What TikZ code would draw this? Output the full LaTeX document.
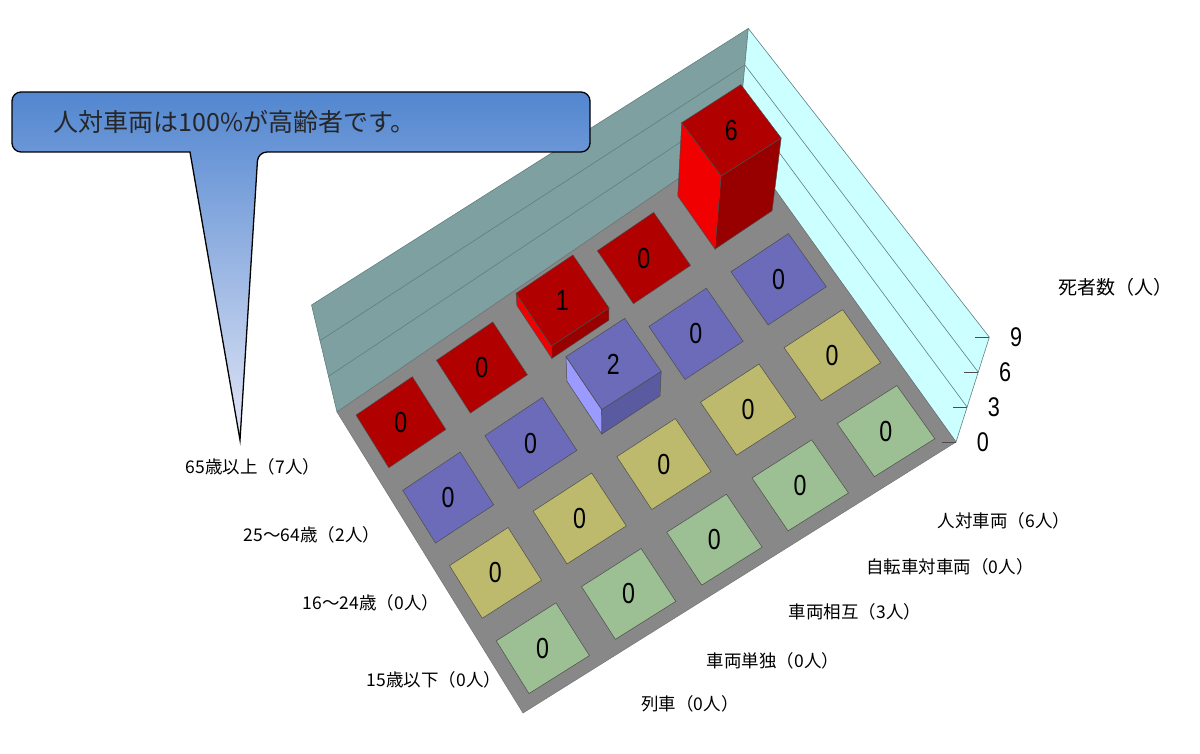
\documentclass[tikz,border=0pt]{standalone}
\usepackage{fontspec}
\setmainfont{Liberation Sans}
\newfontfamily\cjk{Noto Sans CJK JP}
\usetikzlibrary{calc}
\definecolor{wallback}{HTML}{7FA0A0}
\definecolor{wallside}{HTML}{CCFFFF}
\definecolor{gridl}{HTML}{5F7F7F}
\definecolor{floorc}{HTML}{888888}
\definecolor{rTop}{HTML}{B00000}\definecolor{rL}{HTML}{F00000}\definecolor{rR}{HTML}{980000}
\definecolor{bTop}{HTML}{6B6BB9}\definecolor{bL}{HTML}{9A9AFF}\definecolor{bR}{HTML}{5A5AA0}
\definecolor{yTop}{HTML}{BDBA6E}
\definecolor{gTop}{HTML}{9CBF94}
\definecolor{boxTop}{HTML}{5286D0}
\definecolor{boxBot}{HTML}{E2E6F6}
\newcommand\myPt[4]{%
 \pgfmathsetmacro\myA{(#2)/5}\pgfmathsetmacro\myB{(#3)/4}\pgfmathsetmacro\myS{-(#4)*110/9}%
 \coordinate (tmp) at ($($(A)!\myA!(B)$)!\myB!($(D)!\myA!(C)$)$);
 \coordinate (#1) at ($(tmp)!\myS pt!(V)$);}
\newcommand\myCell[6]{%
 \pgfmathsetmacro\uA{#1+0.15}\pgfmathsetmacro\uB{#1+0.85}%
 \pgfmathsetmacro\vA{#2+0.15}\pgfmathsetmacro\vB{#2+0.85}%
 \pgfmathsetmacro\uC{#1+0.5}\pgfmathsetmacro\vC{#2+0.5}%
 \myPt{b1}{\uA}{\vA}{0}\myPt{b2}{\uB}{\vA}{0}\myPt{b3}{\uB}{\vB}{0}\myPt{b4}{\uA}{\vB}{0}
 \myPt{t1}{\uA}{\vA}{#3}\myPt{t2}{\uB}{\vA}{#3}\myPt{t3}{\uB}{\vB}{#3}\myPt{t4}{\uA}{\vB}{#3}
 \myPt{tc}{\uC}{\vC}{#3}
 \ifnum#3>0
  \draw[face,fill=#5] (b1)--(b4)--(t4)--(t1)--cycle;
  \draw[face,fill=#6] (b4)--(b3)--(t3)--(t4)--cycle;
 \fi
 \draw[face,fill=#4] (t1)--(t2)--(t3)--(t4)--cycle;
 \node[val] (lab-#1-#2) at (tc) {#3};}
\begin{document}
\begin{tikzpicture}[x=1pt,y=-1pt,
 face/.style={draw=black!70,line width=0.5pt},
 val/.style={font=\fontsize{29}{29}\selectfont,xscale=0.8},
 cat/.style={font=\cjk\fontsize{17.5}{17.5}\selectfont,anchor=center},
 axn/.style={font=\fontsize{27}{27}\selectfont,xscale=0.8},
 wall/.style={draw=gridl,line width=0.6pt}]
\useasboundingbox (0,0) rectangle (1200,754);
\fill[white] (0,0) rectangle (1200,754);
\coordinate (A) at (337,412);
\coordinate (B) at (738,138);
\coordinate (C) at (956,442);
\coordinate (D) at (523,713);
\coordinate (V) at (606,1542);
% walls
\myPt{At}{0}{0}{9}\myPt{Bt}{5}{0}{9}\myPt{Ct}{5}{4}{9}
\myPt{A3}{0}{0}{3}\myPt{B3}{5}{0}{3}\myPt{C3}{5}{4}{3}
\myPt{A6}{0}{0}{6}\myPt{B6}{5}{0}{6}\myPt{C6}{5}{4}{6}
\draw[wall,fill=wallback] (A)--(B)--(Bt)--(At)--cycle;
\draw[wall,fill=wallside] (B)--(C)--(Ct)--(Bt)--cycle;
\draw[wall] (A3)--(B3)--(C3) (A6)--(B6)--(C6);
% floor
\draw[fill=floorc,draw=black!55,line width=0.5pt] (A)--(B)--(C)--(D)--cycle;
% axis ticks and numbers
\foreach \n/\p in {0/C,3/C3,6/C6,9/Ct}{
 \draw[black!70,line width=0.8pt] ($(\p)+(-14,0)$)--(\p);
 \node[axn,anchor=west] (ax\n) at ($(\p)+(18,0)$) {\n};}
\node[cat,font=\cjk\fontsize{19}{19}\selectfont] (unit) at (1115,287) {死者数（人）};
% cells
\myCell{0}{0}{0}{rTop}{rL}{rR}
\myCell{1}{0}{0}{rTop}{rL}{rR}
\myCell{3}{0}{0}{rTop}{rL}{rR}
\myCell{0}{1}{0}{bTop}{bL}{bR}
\myCell{1}{1}{0}{bTop}{bL}{bR}
\myCell{3}{1}{0}{bTop}{bL}{bR}
\myCell{4}{1}{0}{bTop}{bL}{bR}
\foreach \i in {0,...,4}{\myCell{\i}{2}{0}{yTop}{yTop}{yTop}}
\foreach \i in {0,...,4}{\myCell{\i}{3}{0}{gTop}{gTop}{gTop}}
\myCell{2}{0}{1}{rTop}{rL}{rR}
\myCell{4}{0}{6}{rTop}{rL}{rR}
\myCell{2}{1}{2}{bTop}{bL}{bR}
% category labels
\node[cat] (r1) at (253,467) {65歳以上（7人）};
\node[cat] (r2) at (312,535) {25～64歳（2人）};
\node[cat] (r3) at (371,603) {16～24歳（0人）};
\node[cat] (r4) at (434,680) {15歳以下（0人）};
\node[cat] (c1) at (1004,521) {人対車両（6人）};
\node[cat] (c2) at (950,567) {自転車対車両（0人）};
\node[cat] (c3) at (855,612) {車両相互（3人）};
\node[cat] (c4) at (773,661) {車両単独（0人）};
\node[cat] (c5) at (690,704) {列車（0人）};
% callout
\path[draw=black,line width=1.3pt,top color=boxTop,bottom color=boxBot,rounded corners=9pt]
 (12,92)--(590,92)--(590,152)--(258,152)[sharp corners]--(240,440)--(190,152)[rounded corners=9pt]--(12,152)--cycle;
\node[font=\cjk\fontsize{25}{25}\selectfont,text=black!85,anchor=west] (callout) at (50,122) {人対車両は100\%が高齢者です。};
\end{tikzpicture}
\end{document}
